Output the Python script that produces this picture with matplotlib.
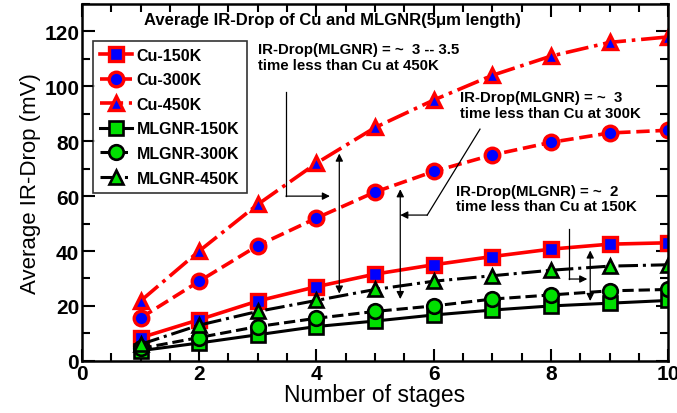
import numpy as np
import matplotlib
matplotlib.use('Agg')
from matplotlib import pyplot as plt
from matplotlib.ticker import MultipleLocator

plt.rcParams['font.family'] = ['Liberation Sans', 'DejaVu Sans']

stages = [1, 2, 3, 4, 5, 6, 7, 8, 9, 10]

cu_150 = [8.4, 15.0, 21.8, 27.0, 31.6, 35.0, 38.0, 40.7, 42.5, 43.0]
cu_300 = [15.6, 29.0, 42.0, 52.0, 61.5, 69.0, 75.0, 79.6, 83.0, 84.0]
cu_450 = [21.8, 40.0, 57.0, 72.0, 85.0, 95.0, 104.0, 111.0, 116.0, 118.0]
gnr_150 = [3.7, 6.5, 9.5, 12.5, 14.5, 16.7, 18.5, 20.0, 21.0, 22.0]
gnr_300 = [4.5, 8.5, 12.5, 15.5, 18.0, 20.0, 22.5, 24.0, 25.5, 26.0]
gnr_450 = [6.0, 13.0, 18.0, 22.0, 26.0, 29.0, 31.0, 33.0, 34.5, 35.0]

fig = plt.figure(figsize=(6.77, 4.14), dpi=100)
ax = fig.add_axes([0.121, 0.126, 0.866, 0.862])

# copper: red lines, blue markers with red edge
cu_kw = dict(color='red', lw=2.6, mfc='blue', mec='red', mew=2.4, ms=10.5)
ax.plot(stages, cu_150, '-', marker='s', label='Cu-150K', **cu_kw)
ax.plot(stages, cu_300, '--', marker='o', label='Cu-300K', **cu_kw)
ax.plot(stages, cu_450, '-.', marker='^', label='Cu-450K', **cu_kw)

# MLGNR: black lines, green markers
gnr_kw = dict(color='black', lw=2.2, mfc='#00e000', mec='black', mew=1.9, ms=10.5)
ax.plot(stages, gnr_150, '-', marker='s', label='MLGNR-150K', **gnr_kw)
ax.plot(stages, gnr_300, '--', marker='o', label='MLGNR-300K', **gnr_kw)
ax.plot(stages, gnr_450, '-.', marker='^', label='MLGNR-450K', **gnr_kw)

ax.set_xlim(0, 10)
ax.set_ylim(0, 130)
ax.xaxis.set_major_locator(MultipleLocator(2))
ax.xaxis.set_minor_locator(MultipleLocator(0.5))
ax.yaxis.set_major_locator(MultipleLocator(20))
ax.yaxis.set_minor_locator(MultipleLocator(10))
ax.tick_params(which='both', direction='in', top=True, right=True, width=1.5)
ax.tick_params(which='major', length=9, labelsize=15, pad=2)
ax.tick_params(which='minor', length=5.5)
for lab in ax.get_xticklabels() + ax.get_yticklabels():
    lab.set_fontweight('bold')
for s in ax.spines.values():
    s.set_linewidth(1.8)

ax.set_xlabel('Number of stages', fontsize=16.5, labelpad=0)
ax.set_ylabel('Average IR-Drop (mV)', fontsize=16, labelpad=2)

ax.text(4.27, 124.5, 'Average IR-Drop of Cu and MLGNR(5\u03bcm length)',
        ha='center', va='center', fontsize=12, fontweight='bold')

leg = ax.legend(loc='upper left', bbox_to_anchor=(0.005, 0.92),
                prop={'weight': 'bold', 'size': 11.5}, frameon=True, fancybox=False,
                edgecolor='black', handlelength=2.0, labelspacing=0.6,
                borderpad=0.45, handletextpad=0.3)
leg.get_frame().set_linewidth(1.2)

ann_kw = dict(fontsize=10.8, fontweight='bold', ha='left', va='top', linespacing=1.15)
arr = dict(arrowstyle='-|>', color='black', lw=0.9, mutation_scale=11, shrinkA=0, shrinkB=0)
dbl = dict(arrowstyle='<|-|>', color='black', lw=0.9, mutation_scale=11,
           shrinkA=0, shrinkB=0)

# 450K
ax.text(3.0, 116, 'IR-Drop(MLGNR) = ~  3 -- 3.5\ntime less than Cu at 450K', **ann_kw)
ax.plot([3.48, 3.48], [98, 60], color='black', lw=0.9)
ax.annotate('', xy=(4.23, 60), xytext=(3.48, 60), arrowprops=arr)
ax.annotate('', xy=(4.39, 75.5), xytext=(4.39, 24.5), arrowprops=dbl)

# 300K
ax.text(6.45, 98.5, 'IR-Drop(MLGNR) = ~  3\ntime less than Cu at 300K', **ann_kw)
ax.plot([6.79, 5.89], [84.4, 53.1], color='black', lw=0.9)
ax.annotate('', xy=(5.43, 53.1), xytext=(5.89, 53.1), arrowprops=arr)
ax.annotate('', xy=(5.43, 62.5), xytext=(5.43, 22.5), arrowprops=dbl)

# 150K
ax.text(6.38, 64.5, 'IR-Drop(MLGNR) = ~  2\ntime less than Cu at 150K', **ann_kw)
ax.plot([8.31, 8.31], [48, 29.8], color='black', lw=0.9)
ax.annotate('', xy=(8.62, 29.8), xytext=(8.31, 29.8), arrowprops=arr)
ax.annotate('', xy=(8.67, 40.2), xytext=(8.67, 21.8), arrowprops=dbl)

fig.savefig('out.png', dpi=100)
